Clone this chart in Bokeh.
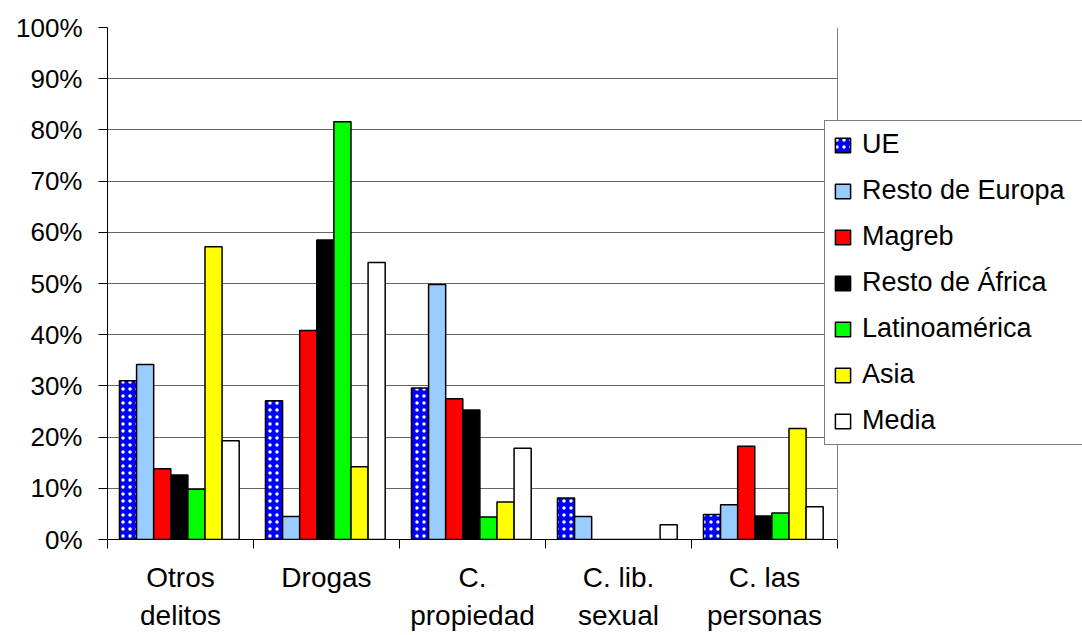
from bokeh.plotting import figure
from bokeh.models import (ColumnDataSource, FixedTicker, PrintfTickFormatter, Legend,
                          LegendItem, Range1d, BoxAnnotation, Span)
from bokeh.transform import dodge
from bokeh.embed import file_html
from bokeh.resources import INLINE

categories = ["Otros\ndelitos", "Drogas", "C.\npropiedad", "C. lib.\nsexual", "C. las\npersonas"]
series = ["UE", "Resto de Europa", "Magreb", "Resto de África", "Latinoamérica", "Asia", "Media"]
ue = [31.0, 27.1, 29.6, 8.1, 4.9]
resto_europa = [34.2, 4.5, 49.8, 4.5, 6.8]
magreb = [13.8, 40.8, 27.5, 0.0, 18.2]
resto_africa = [12.6, 58.5, 25.3, 0.0, 4.6]
latinoamerica = [9.8, 81.6, 4.4, 0.0, 5.2]
asia = [57.2, 14.2, 7.3, 0.0, 21.7]
media = [19.3, 54.1, 17.8, 2.9, 6.4]
y_ticks = [0, 10, 20, 30, 40, 50, 60, 70, 80, 90, 100]

colors = ["#0000FF", "#99CCFF", "#FF0000", "#000000", "#00FF00", "#FFFF00", "#FFFFFF"]
values = [ue, resto_europa, magreb, resto_africa, latinoamerica, asia, media]

FONT = "Liberation Sans"
W, H = 1082, 635
LEFT, TOP, BOTTOM = 107, 27, 96
PLOT_W = 730  # pixel width of the category area
n = len(categories)
frame_w = W - LEFT
x_end = n * frame_w / PLOT_W

centers = [i + 0.5 for i in range(n)]
data = {"x": centers}
for i, v in enumerate(values):
    data[f"s{i}"] = v
src = ColumnDataSource(data)

p = figure(width=W, height=H, output_backend="svg", toolbar_location=None,
           x_range=Range1d(0, x_end), y_range=Range1d(0, 100),
           min_border_left=LEFT, min_border_right=0, min_border_top=TOP,
           min_border_bottom=BOTTOM)
p.background_fill_color = "white"
p.border_fill_color = "white"
p.outline_line_color = None

bw = 0.82 / len(series)
items = []
for i, name in enumerate(series):
    off = (i - (len(series) - 1) / 2) * bw - 0.008
    kw = {}
    if i == 0:
        kw = dict(hatch_pattern="dot", hatch_color="white", hatch_scale=7, hatch_weight=1)
    r = p.vbar(x=dodge("x", off, range=p.x_range), top=f"s{i}", width=bw, bottom=0, source=src,
               fill_color=colors[i], line_color="black", line_width=1.5, **kw)
    items.append(LegendItem(label=name, renderers=[r]))

# y axis
ya = p.yaxis[0]
ya.ticker = FixedTicker(ticks=y_ticks, minor_ticks=[])
ya.formatter = PrintfTickFormatter(format="%d%%")
ya.major_label_text_font = FONT
ya.major_label_text_font_size = "26px"
ya.major_label_text_color = "black"
ya.major_tick_out = 9
ya.major_tick_in = 0
ya.minor_tick_out = 0
ya.minor_tick_in = 0
ya.major_label_standoff = 16
ya.axis_line_color = "black"
ya.major_tick_line_color = "black"

# x axis
xa = p.xaxis[0]
xa.bounds = (0, n)
xa.ticker = FixedTicker(ticks=centers, minor_ticks=list(range(n + 1)))
xa.major_label_overrides = {c: lab for c, lab in zip(centers, categories)}
xa.major_label_text_font = FONT
xa.major_label_text_font_size = "28px"
xa.major_label_text_line_height = 1.25
xa.major_label_text_color = "black"
xa.major_tick_out = 0
xa.major_tick_in = 0
xa.minor_tick_out = 9
xa.minor_tick_in = 0
xa.minor_tick_line_color = "black"
xa.major_label_standoff = 13
xa.axis_line_color = "black"

p.xgrid.grid_line_color = None
p.ygrid.ticker = FixedTicker(ticks=y_ticks)
p.ygrid.grid_line_color = "#666666"
p.ygrid.grid_line_width = 1

# blank area to the right of the plot area (legend sits over it)
p.add_layout(BoxAnnotation(left=n, fill_color="white", fill_alpha=1, line_color=None))
p.add_layout(Span(location=n, dimension="height", line_color="#808080", line_width=1))

legend = Legend(items=items, location=(717, 94))
legend.label_text_font = FONT
legend.label_text_font_size = "27px"
legend.label_text_color = "black"
legend.glyph_width = 19
legend.glyph_height = 18
legend.label_standoff = 10
legend.label_width = 240
legend.padding = 8
legend.spacing = 15
legend.margin = 0
legend.border_line_color = "black"
legend.border_line_width = 1
legend.background_fill_color = "white"
legend.background_fill_alpha = 1
p.add_layout(legend)

open("out.html", "w").write(file_html(p, INLINE))
